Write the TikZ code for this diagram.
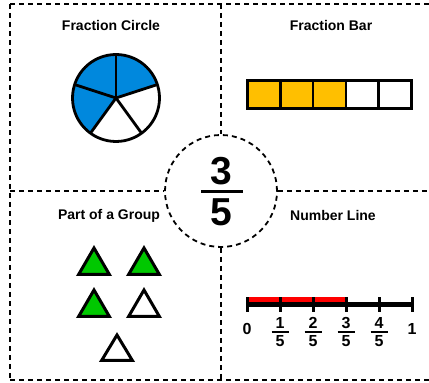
\documentclass[tikz,border=0pt]{standalone}
\usepackage{fontspec}
\setmainfont{Liberation Sans}
\definecolor{pieblue}{HTML}{0088DD}
\definecolor{baryellow}{HTML}{FFBF00}
\definecolor{trigreen}{HTML}{00C800}
\definecolor{linered}{HTML}{FF0000}
\begin{document}
\begin{tikzpicture}[x=1pt,y=1pt,
  border/.style={line width=1.8pt,dash pattern=on 5pt off 4pt},
  title/.style={font=\fontsize{14}{16}\selectfont\bfseries,inner sep=0pt},
  small/.style={font=\fontsize{16}{18}\selectfont\bfseries,inner sep=0pt},
  big/.style={font=\fontsize{39}{40}\selectfont\bfseries,inner sep=0pt},
  tri/.style={line width=3pt},
  cell/.style={draw,line width=2.5pt}]
\useasboundingbox (0,0) rectangle (429,383);
% borders
\coordinate (tl) at (10,379);
\coordinate (bl) at (10,3);
\coordinate (tr) at (429,379);
\coordinate (br) at (429,3);
\coordinate (tm) at (221,379);
\coordinate (bm) at (221,3);
\coordinate (lm) at (10,192);
\coordinate (rm) at (429,192);
\node[draw,circle,border,minimum size=112pt,inner sep=0pt] (C) at (221,192) {};
\draw[border] (tl) -- (bl);
\draw[border] (tl) -- (tr);
\draw[border] (bl) -- (br);
\draw[border] (tm) -- (C.north);
\draw[border] (C.south) -- (bm);
\draw[border] (lm) -- (C.west);
\draw[border] (C.east) -- (rm);
% central fraction
\node[big] (num) at (221,212) {3};
\node[big] (den) at (221,171) {5};
\coordinate (fb1) at (201,191.5);
\coordinate (fb2) at (243,191.5);
\draw[line width=3.5pt] (fb1) -- (fb2);
% titles
\node[title] (t1) at (111,357) {Fraction Circle};
\node[title] (t2) at (331,357) {Fraction Bar};
\node[title] (t3) at (109,167.5) {Part of a Group};
\node[title] (t4) at (333,168) {Number Line};
% pie
\coordinate (pc) at (116,285);
\fill[pieblue] (pc) -- ++(18:43.5) arc[start angle=18,end angle=234,radius=43.5] -- cycle;
\draw[line width=2.8pt] (pc) circle[radius=43.5];
\foreach \a in {90,18,-54,-126,162} \draw[line width=2.8pt] (pc) -- ++(\a:43.5);
% fraction bar
\foreach \i/\c in {0/baryellow,1/baryellow,2/baryellow,3/white,4/white}{
  \draw[cell,fill=\c] (247.5+\i*32.8,274.5) rectangle ++(32.8,28);
}
% triangles
\foreach \x/\yt/\yb/\c in {94/135/108.5/trigreen,144/135/108.5/trigreen,94/93/66.5/trigreen,144/93/66.5/white,117/48/22.5/white}{
  \draw[tri,fill=\c] (\x,\yt) -- (\x+15.4,\yb) -- (\x-15.4,\yb) -- cycle;
}
% number line
\coordinate (n0) at (247,78.5);
\coordinate (n1) at (412,78.5);
\draw[line width=5pt] (n0) -- (n1);
\draw[linered,line width=5pt] (247,83.5) -- (346,83.5);
\foreach \x in {247,280,313,346,379,412} \draw[line width=3pt] (\x,71) -- (\x,86);
\node[small] (l0) at (247,54) {0};
\node[small] (l5) at (412,54) {1};
\foreach \x/\n in {280/1,313/2,346/3,379/4}{
  \node[small] at (\x,60) {\n};
  \node[small] at (\x,42) {5};
  \draw[line width=2pt] (\x-8.5,51) -- (\x+8.5,51);
}
\end{tikzpicture}
\end{document}
